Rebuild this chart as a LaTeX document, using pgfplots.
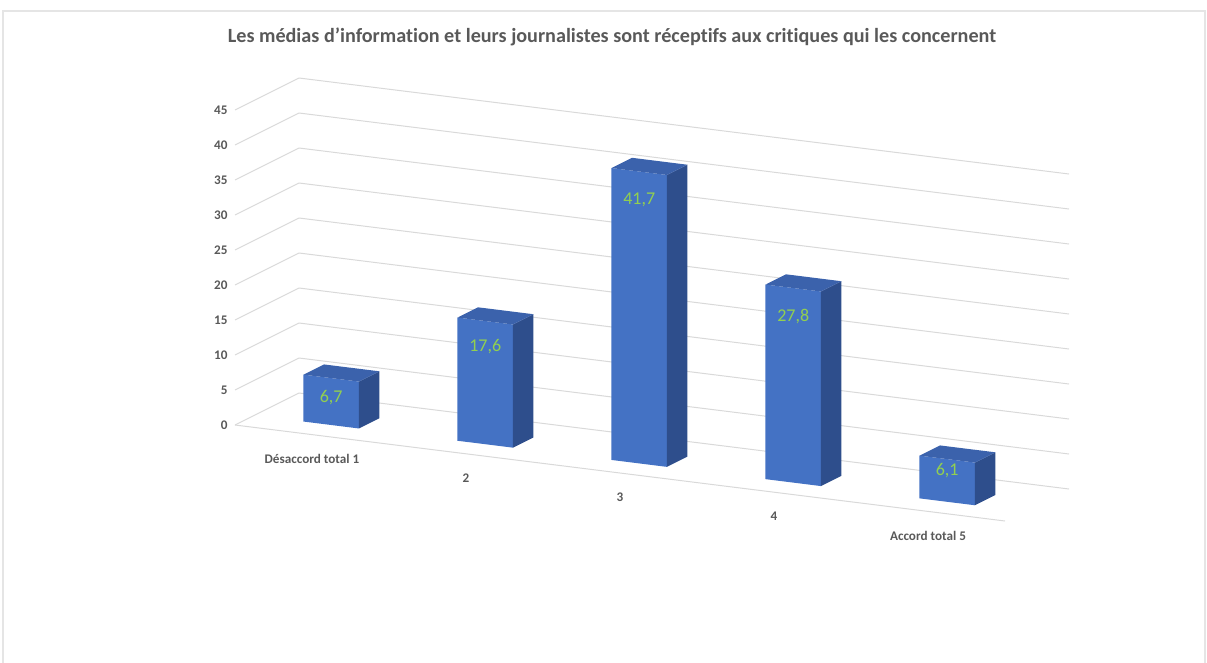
\documentclass[border=0pt]{standalone}
\usepackage{pgfplots}
\pgfplotsset{compat=1.18}
\usepackage{fontspec}
\setmainfont{Carlito}[Ligatures=NoCommon]
\definecolor{barfront}{HTML}{4472C4}
\definecolor{bartop}{HTML}{3B62AC}
\definecolor{barside}{HTML}{2E4E8C}
\definecolor{txtgray}{HTML}{595959}
\definecolor{gridgray}{HTML}{D9D9D9}
\definecolor{lblgreen}{HTML}{92D050}
\begin{document}
\begin{tikzpicture}
\path[use as bounding box] (0,0) rectangle (724.2pt,397.2pt);
\draw[color=gray!20, line width=0.8pt] (1.8pt,-5pt) -- (1.8pt,390.6pt) -- (723pt,390.6pt) -- (723pt,-5pt);
\node[font=\bfseries\fontsize{12.1}{14}\selectfont, text=txtgray] at (367.2pt,375pt) {Les médias d’information et leurs journalistes sont réceptifs aux critiques qui les concernent};
\begin{axis}[
  at={(141pt,142.2pt)}, anchor=origin,
  x={(92.4pt,-11.52pt)}, y={(38.4pt,19.2pt)}, z={(0pt,4.2pt)},
  xmin=0, xmax=5, ymin=0, ymax=1, zmin=0, zmax=45,
  xtick={0.5,1.5,2.5,3.5,4.5},
  xticklabels={Désaccord total 1,2,3,4,Accord total 5},
  ytick=\empty,
  ztick={0,5,...,45},
  zmajorgrids,
  major grid style={gridgray, line width=0.6pt},
  axis line style={draw=none},
  major tick length=0pt,
  /pgf/number format/assume math mode=true,
  tick label style={font=\bfseries\fontsize{7.9}{9}\selectfont, text=txtgray},
  xticklabel style={anchor=north, yshift=-8.5pt},
  zticklabel style={anchor=east, xshift=-1pt},
  no markers,
  clip=false,
]
\draw[gridgray, line width=0.6pt] (axis cs:0,0,0) -- (axis cs:5,0,0);
% bar 1: 6.7
\addplot3[fill=barfront, draw=none] coordinates {(0.32,0.3,0) (0.68,0.3,0) (0.68,0.3,6.7) (0.32,0.3,6.7)};
\addplot3[fill=barside, draw=none] coordinates {(0.68,0.3,0) (0.68,0.62,0) (0.68,0.62,6.7) (0.68,0.3,6.7)};
\addplot3[fill=bartop, draw=none] coordinates {(0.32,0.3,6.7) (0.68,0.3,6.7) (0.68,0.62,6.7) (0.32,0.62,6.7)};
% bar 2: 17.6
\addplot3[fill=barfront, draw=none] coordinates {(1.32,0.3,0) (1.68,0.3,0) (1.68,0.3,17.6) (1.32,0.3,17.6)};
\addplot3[fill=barside, draw=none] coordinates {(1.68,0.3,0) (1.68,0.62,0) (1.68,0.62,17.6) (1.68,0.3,17.6)};
\addplot3[fill=bartop, draw=none] coordinates {(1.32,0.3,17.6) (1.68,0.3,17.6) (1.68,0.62,17.6) (1.32,0.62,17.6)};
% bar 3: 41.7
\addplot3[fill=barfront, draw=none] coordinates {(2.32,0.3,0) (2.68,0.3,0) (2.68,0.3,41.7) (2.32,0.3,41.7)};
\addplot3[fill=barside, draw=none] coordinates {(2.68,0.3,0) (2.68,0.62,0) (2.68,0.62,41.7) (2.68,0.3,41.7)};
\addplot3[fill=bartop, draw=none] coordinates {(2.32,0.3,41.7) (2.68,0.3,41.7) (2.68,0.62,41.7) (2.32,0.62,41.7)};
% bar 4: 27.8
\addplot3[fill=barfront, draw=none] coordinates {(3.32,0.3,0) (3.68,0.3,0) (3.68,0.3,27.8) (3.32,0.3,27.8)};
\addplot3[fill=barside, draw=none] coordinates {(3.68,0.3,0) (3.68,0.62,0) (3.68,0.62,27.8) (3.68,0.3,27.8)};
\addplot3[fill=bartop, draw=none] coordinates {(3.32,0.3,27.8) (3.68,0.3,27.8) (3.68,0.62,27.8) (3.32,0.62,27.8)};
% bar 5: 6.1
\addplot3[fill=barfront, draw=none] coordinates {(4.32,0.3,0) (4.68,0.3,0) (4.68,0.3,6.1) (4.32,0.3,6.1)};
\addplot3[fill=barside, draw=none] coordinates {(4.68,0.3,0) (4.68,0.62,0) (4.68,0.62,6.1) (4.68,0.3,6.1)};
\addplot3[fill=bartop, draw=none] coordinates {(4.32,0.3,6.1) (4.68,0.3,6.1) (4.68,0.62,6.1) (4.32,0.62,6.1)};
% data labels
\begin{scope}[every node/.style={font=\fontsize{10.8}{12}\selectfont, text=lblgreen}]
\node at (axis cs:0.5,0.3,3.9) {6,7};
\node at (axis cs:1.5,0.3,14.0) {17,6};
\node at (axis cs:2.5,0.3,37.6) {41,7};
\node at (axis cs:3.5,0.3,23.8) {27,8};
\node at (axis cs:4.5,0.3,4.4) {6,1};
\end{scope}
\end{axis}
\end{tikzpicture}
\end{document}
